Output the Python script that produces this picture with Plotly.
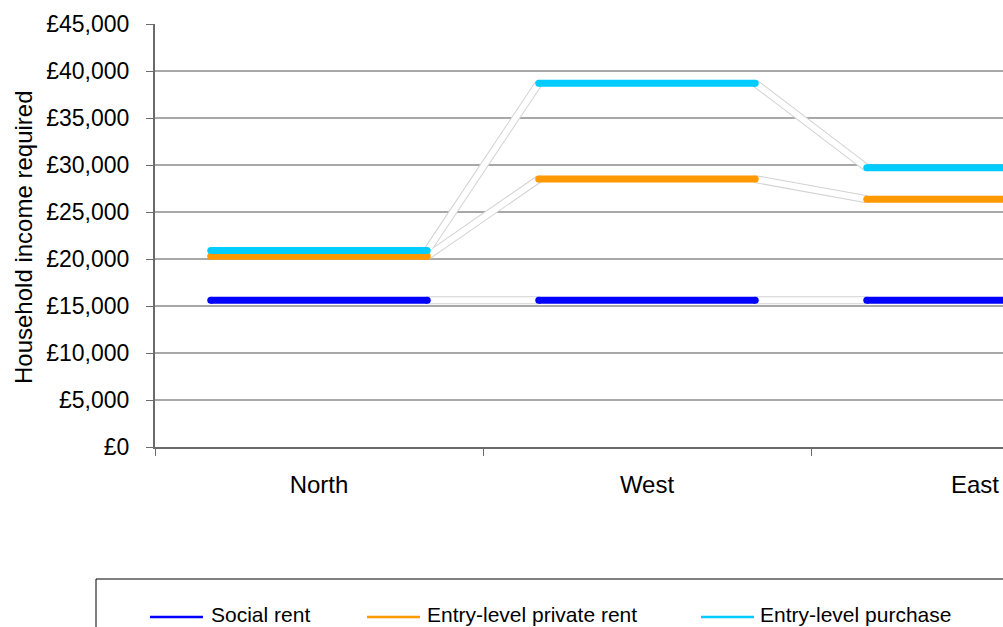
import plotly.graph_objects as go

# Regions and the household income required for each tenure
regions = ["North", "West", "East"]
social_rent = [15600, 15600, 15600]
private_rent = [20300, 28500, 26350]
purchase = [20900, 38700, 29700]

series_names = ["Social rent", "Entry-level private rent", "Entry-level purchase"]
series_values = [social_rent, private_rent, purchase]
series_colors = ["#0000ff", "#ff9900", "#00ccff"]

y_max = 45000
y_step = 5000

# Layout constants (pixels)
W, H = 1003, 627
ML, MR, MT, MB = 155, 0, 24, 180
plot_w = W - ML - MR
plot_h = H - MT - MB
cat_px = 328                      # width of one region band
half = 0.33                       # half-length of each level bar (in band units)

x_pos = list(range(len(regions)))
x_range = [-0.5, -0.5 + plot_w / cat_px]


def px_x(px):
    return (px - ML) / plot_w


def px_y(py):
    return (MT + plot_h - py) / plot_h


fig = go.Figure()

# Connector bands between neighbouring levels: grey outline first, white core on top
conn = []
for vals in series_values:
    xs, ys = [], []
    for i in range(len(vals) - 1):
        xs += [x_pos[i] + half, x_pos[i + 1] - half, None]
        ys += [vals[i], vals[i + 1], None]
    conn.append((xs, ys))
for xs, ys in conn:
    fig.add_trace(go.Scatter(x=xs, y=ys, mode="lines",
                             line=dict(color="#d2d2d2", width=8),
                             hoverinfo="skip", showlegend=False))
for xs, ys in conn:
    fig.add_trace(go.Scatter(x=xs, y=ys, mode="lines",
                             line=dict(color="#ffffff", width=6),
                             hoverinfo="skip", showlegend=False))

# Level bars with rounded ends
for name, vals, col in zip(series_names, series_values, series_colors):
    xs, ys = [], []
    for i, v in enumerate(vals):
        xs += [x_pos[i] - half, x_pos[i] + half, None]
        ys += [v, v, None]
    fig.add_trace(go.Scatter(x=xs, y=ys, mode="lines+markers", name=name,
                             line=dict(color=col, width=7),
                             marker=dict(color=col, size=7, line=dict(width=0)),
                             showlegend=False))

axis_col = "#6b6b6b"
font_family = "Liberation Sans, Arial, sans-serif"

fig.update_xaxes(
    range=x_range,
    tickmode="array", tickvals=x_pos, ticktext=regions,
    ticks="", showgrid=False, zeroline=False,
    showline=True, linecolor=axis_col, linewidth=2,
    tickfont=dict(family=font_family, size=24, color="#000000"),
    ticklabelstandoff=15,
    minor=dict(tickmode="array", tickvals=[p - 0.5 for p in x_pos],
               ticks="outside", ticklen=7, tickwidth=1, tickcolor=axis_col,
               showgrid=False),
)
fig.update_yaxes(
    range=[0, y_max], tick0=0, dtick=y_step,
    tickprefix="£", tickformat=",d",
    ticks="outside", ticklen=7, tickwidth=1, tickcolor=axis_col,
    showgrid=True, gridcolor="#a8a8a8", gridwidth=2,
    zeroline=False, showline=True, linecolor=axis_col, linewidth=2,
    tickfont=dict(family=font_family, size=23, color="#000000"),
    ticklabelstandoff=12,
)

annotations = [
    dict(text="Household income required", textangle=-90,
         xref="paper", yref="paper", x=px_x(24), y=px_y(237),
         xanchor="center", yanchor="middle", showarrow=False,
         font=dict(family=font_family, size=24, color="#000000")),
]

# Legend box drawn below the plot
shapes = [
    dict(type="rect", xref="paper", yref="paper",
         x0=px_x(96), x1=px_x(1200), y0=px_y(579), y1=px_y(700),
         line=dict(color="#000000", width=1), fillcolor="rgba(0,0,0,0)"),
]
legend_line_x = [150, 367, 701]
legend_text_x = [209, 425, 758]
legend_y = 617
for name, col, lx, tx in zip(series_names, series_colors, legend_line_x, legend_text_x):
    shapes.append(dict(type="line", xref="paper", yref="paper",
                       x0=px_x(lx), x1=px_x(lx + 53), y0=px_y(legend_y), y1=px_y(legend_y),
                       line=dict(color=col, width=2.5)))
    annotations.append(dict(text=name, xref="paper", yref="paper",
                            x=px_x(tx), y=px_y(legend_y - 3), xanchor="left", yanchor="middle",
                            showarrow=False,
                            font=dict(family=font_family, size=21, color="#000000")))

fig.update_layout(
    width=W, height=H,
    margin=dict(l=ML, r=MR, t=MT, b=MB, pad=0),
    plot_bgcolor="#ffffff", paper_bgcolor="#ffffff",
    showlegend=False,
    annotations=annotations,
    shapes=shapes,
)

fig.write_html("out.html")
